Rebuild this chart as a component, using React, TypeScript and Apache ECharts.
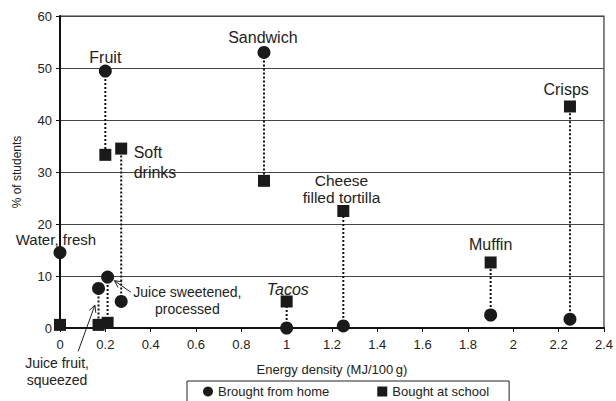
import React, { useEffect, useRef } from "react";
import * as echarts from "echarts";

const foods = ["Water, fresh", "Juice fruit, squeezed", "Fruit", "Juice sweetened, processed", "Soft drinks", "Sandwich", "Tacos", "Cheese filled tortilla", "Muffin", "Crisps"];
const energy = [0, 0.17, 0.2, 0.21, 0.27, 0.9, 1.0, 1.25, 1.9, 2.25];
const home = [14.5, 7.6, 49.4, 9.8, 5.1, 53.0, 0.0, 0.4, 2.5, 1.7];
const school = [0.6, 0.6, 33.3, 1.0, 34.5, 28.3, 5.1, 22.5, 12.6, 42.6];

const seriesNames = ["Brought from home", "Bought at school"];
const xAxisName = "Energy density (MJ/100\u2009g)";
const yAxisName = "% of students";

// annotation text, anchor in data coordinates
const labelTexts = ["Fruit", "Sandwich", "Soft\ndrinks", "Crisps", "Cheese\nfilled tortilla", "Muffin", "Tacos", "Water, fresh", "Juice sweetened,\nprocessed", "Juice fruit,\nsqueezed"];
const labelX = [0.2, 0.895, 0.325, 2.233, 1.242, 1.9, 1.005, -0.018, 0.562, -0.013];
const labelY = [52.1, 55.8, 31.9, 45.8, 26.7, 16.0, 7.5, 17.1, 5.2, -8.3];

const FONT = "'Liberation Sans', Arial, Helvetica, sans-serif";

export default function App() {
  const ref = useRef<HTMLDivElement>(null);
  useEffect(() => {
    document.body.style.margin = "0";
    const chart = echarts.init(ref.current!, null, { renderer: "svg" });
    chart.setOption({
      animation: false,
      backgroundColor: "#fff",
      textStyle: { fontFamily: FONT, color: "#222" },
      grid: { left: 60, right: 9, top: 16, bottom: 73, show: true, borderColor: "#333", borderWidth: 1.2, backgroundColor: "transparent" },
      legend: {
        data: [
          { name: seriesNames[0], icon: "circle" },
          { name: seriesNames[1], icon: "rect" },
        ],
        left: 187,
        top: 381,
        orient: "horizontal",
        itemWidth: 10,
        itemHeight: 10,
        itemGap: 48,
        padding: [4, 20, 12, 16],
        borderColor: "#222",
        borderWidth: 1,
        textStyle: { fontFamily: FONT, fontSize: 13, color: "#222" },
      },
      xAxis: {
        type: "value",
        min: 0,
        max: 2.4,
        interval: 0.2,
        name: xAxisName,
        nameLocation: "middle",
        nameGap: 35,
        nameTextStyle: { fontFamily: FONT, fontSize: 13, color: "#222" },
        axisLine: { show: true, onZero: false, lineStyle: { color: "#111", width: 2 } },
        axisTick: { show: true, length: 4, lineStyle: { color: "#111" } },
        axisLabel: { fontFamily: FONT, fontSize: 13, color: "#222", margin: 10 },
        splitLine: { show: false },
      },
      yAxis: {
        type: "value",
        min: 0,
        max: 60,
        interval: 10,
        name: yAxisName,
        nameLocation: "middle",
        nameGap: 37,
        nameTextStyle: { fontFamily: FONT, fontSize: 12, color: "#222" },
        axisLine: { show: true, lineStyle: { color: "#111", width: 2 } },
        axisTick: { show: true, length: 4, lineStyle: { color: "#111" } },
        axisLabel: { fontFamily: FONT, fontSize: 13, color: "#222", margin: 8 },
        splitLine: { show: true, lineStyle: { color: "#444", width: 1.2 } },
      },
      series: [
        {
          type: "custom",
          silent: true,
          z: 1,
          renderItem: (_p: any, api: any) => {
            const a = api.coord([api.value(0), api.value(1)]);
            const b = api.coord([api.value(0), api.value(2)]);
            return {
              type: "line",
              shape: { x1: a[0], y1: a[1], x2: b[0], y2: b[1] },
              style: { stroke: "#111", lineWidth: 2, lineDash: [2, 2] },
            };
          },
          encode: { x: 0, y: [1, 2] },
          data: energy.map((e, i) => [e, home[i], school[i]]),
        },
        {
          name: seriesNames[0],
          type: "scatter",
          symbol: "circle",
          symbolSize: 13,
          z: 3,
          itemStyle: { color: "#1a1a1a", opacity: 1 },
          data: energy.map((e, i) => [e, home[i]]),
        },
        {
          name: seriesNames[1],
          type: "scatter",
          symbol: "rect",
          symbolSize: 12,
          z: 3,
          itemStyle: { color: "#1a1a1a", opacity: 1 },
          data: energy.map((e, i) => [e, school[i]]),
        },
      ],
    });

    const px = (x: number, y: number) => chart.convertToPixel({ gridIndex: 0 }, [x, y]) as number[];
    const sizes = [16, 16, 16, 16, 15.5, 16, 16, 15, 14, 14];
    const graphics: any[] = labelTexts.map((t, i) => {
      const p = px(labelX[i], labelY[i]);
      const leftAligned = i === 2;
      return {
        type: "text",
        x: p[0],
        y: p[1],
        z: 10,
        style: {
          text: t,
          fill: "#222",
          font: `${i === 6 ? "italic " : ""}${sizes[i]}px ${FONT}`,
          align: leftAligned ? "left" : "center",
          verticalAlign: "middle",
          lineHeight: i === 2 ? 20 : 17,
        },
      };
    });

    // arrows pointing to the two juice points
    const arrow = (from: number[], to: number[]) => {
      const dx = to[0] - from[0];
      const dy = to[1] - from[1];
      const len = Math.sqrt(dx * dx + dy * dy);
      const ux = dx / len, uy = dy / len;
      const hl = 7, hw = 3.5;
      const bx = to[0] - ux * hl, by = to[1] - uy * hl;
      graphics.push({ type: "line", z: 10, shape: { x1: from[0], y1: from[1], x2: to[0], y2: to[1] }, style: { stroke: "#222", lineWidth: 1 } });
      graphics.push({
        type: "polyline",
        z: 10,
        shape: { points: [[bx - uy * hw, by + ux * hw], to, [bx + uy * hw, by - ux * hw]] },
        style: { stroke: "#222", lineWidth: 1, fill: null },
      });
    };
    arrow(px(0.312, 6.9), px(0.24, 9.1));
    arrow(px(0.08, -4.5), px(0.154, 4.4));

    chart.setOption({ graphic: graphics });
    return () => chart.dispose();
  }, []);
  return <div ref={ref} style={{ position: "absolute", left: 0, top: 0, width: 616, height: 401 }} />;
}
